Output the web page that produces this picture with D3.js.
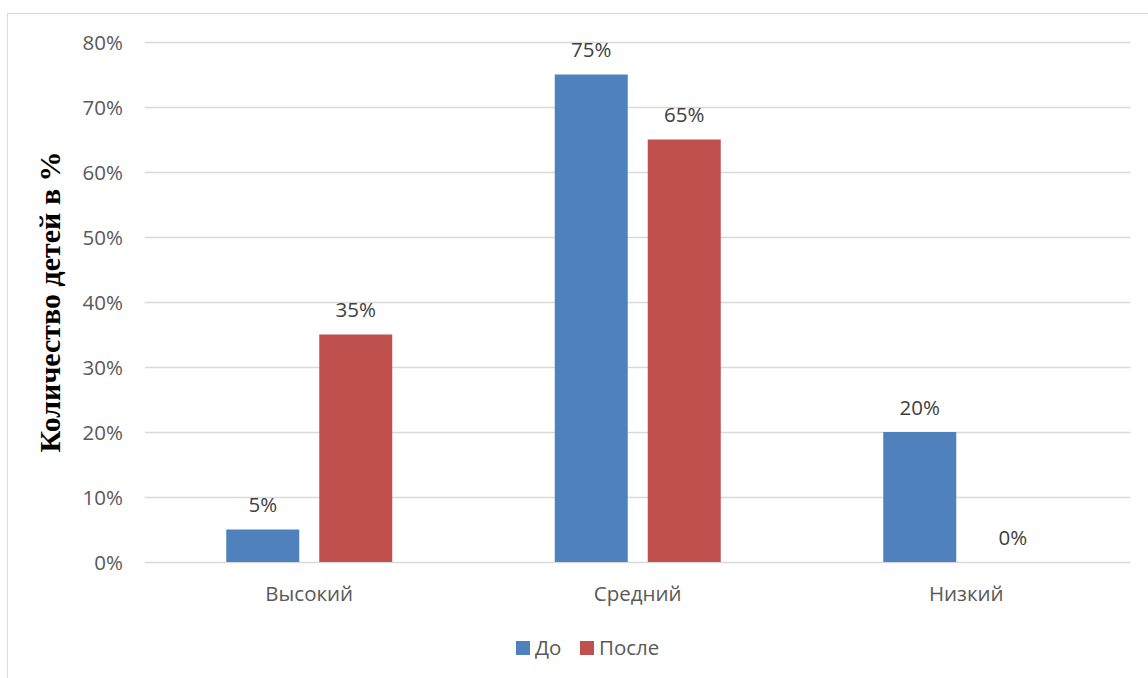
<!DOCTYPE html>
<html><head><meta charset="utf-8">
<script src="https://cdn.jsdelivr.net/npm/d3@7"></script>
<style>body{margin:0;background:#fff}svg{display:block}</style>
</head><body>
<script>
const categories = ["Высокий", "Средний", "Низкий"];
const seriesNames = ["До", "После"];
const before = [5, 75, 20];
const after = [35, 65, 0];
const yTicks = [0, 10, 20, 30, 40, 50, 60, 70, 80];
const colors = ["#4F81BD", "#C0504D"];
const yTitle = "Количество детей в %";

(function () {
const W = 1148, H = 678;
const svg = d3.select("body").append("svg").attr("width", W).attr("height", H);
svg.append("rect").attr("x", 7.5).attr("y", 13.5).attr("width", W).attr("height", H)
  .attr("fill", "#fff").attr("stroke", "#d9d9d9").attr("stroke-width", 1);

const pL = 145, pR = 1130.5, pT = 42, pB = 562;
const x = d3.scaleBand().domain(categories).range([pL, pR]);
const xi = d3.scaleBand().domain(seriesNames).range([0, 166]).paddingInner(20/93);
const y = d3.scaleLinear().domain([0, 80]).range([pB, pT]);
const font = "'Open Sans', sans-serif";
const fs = 20.5;

svg.append("g").selectAll("line").data(yTicks).join("line")
  .attr("x1", pL).attr("x2", pR).attr("y1", d => Math.round(y(d)) + 0.5).attr("y2", d => Math.round(y(d)) + 0.5)
  .attr("stroke", "#d9d9d9").attr("stroke-width", 1.3);

const yAxis = d3.axisLeft(y).tickValues(yTicks).tickFormat(d => d + "%").tickSize(0).tickPadding(0);
const gy = svg.append("g").attr("transform", `translate(123,0)`).call(yAxis);
gy.select(".domain").remove();
gy.selectAll("text").attr("font-family", font).attr("font-size", fs).attr("fill", "#595959").attr("dy", "0.36em");

const xAxis = d3.axisBottom(x).tickSize(0).tickPadding(0);
const gx = svg.append("g").attr("transform", `translate(0,${pB + 39})`).call(xAxis);
gx.select(".domain").remove();
gx.selectAll("text").attr("font-family", font).attr("font-size", fs).attr("fill", "#595959").attr("dy", 0);

const data = [before, after];
const groups = svg.append("g").selectAll("g").data(seriesNames).join("g").attr("fill", (d, i) => colors[i]);
const off = (x.bandwidth() - 166) / 2;
groups.each(function(s, si) {
  const g = d3.select(this);
  g.selectAll("rect").data(categories).join("rect")
    .attr("x", c => x(c) + off + xi(s))
    .attr("width", xi.bandwidth())
    .attr("y", (c, i) => y(data[si][i]))
    .attr("height", (c, i) => y(0) - y(data[si][i]));
  g.selectAll("text").data(categories).join("text")
    .attr("x", c => x(c) + off + xi(s) + xi.bandwidth() / 2)
    .attr("y", (c, i) => y(data[si][i]) - 17.5)
    .attr("text-anchor", "middle")
    .attr("font-family", font).attr("font-size", fs).attr("fill", "#404040")
    .text((c, i) => data[si][i] + "%");
});

svg.append("text").attr("transform", `translate(60,302) rotate(-90)`)
  .attr("text-anchor", "middle").attr("font-family", "'Liberation Serif', 'Times New Roman', serif")
  .attr("font-weight", "bold").attr("font-size", 30).attr("fill", "#000").text(yTitle);

const legX = [516, 580];
const leg = svg.append("g").selectAll("g").data(seriesNames).join("g")
  .attr("transform", (d, i) => `translate(${legX[i]},641)`);
leg.append("rect").attr("width", 14).attr("height", 14).attr("fill", (d, i) => colors[i]);
leg.append("text").attr("x", 19).attr("y", 7).attr("dy", "0.36em")
  .attr("font-family", font).attr("font-size", fs).attr("fill", "#595959").text(d => d);
})();
</script>
</body></html>
